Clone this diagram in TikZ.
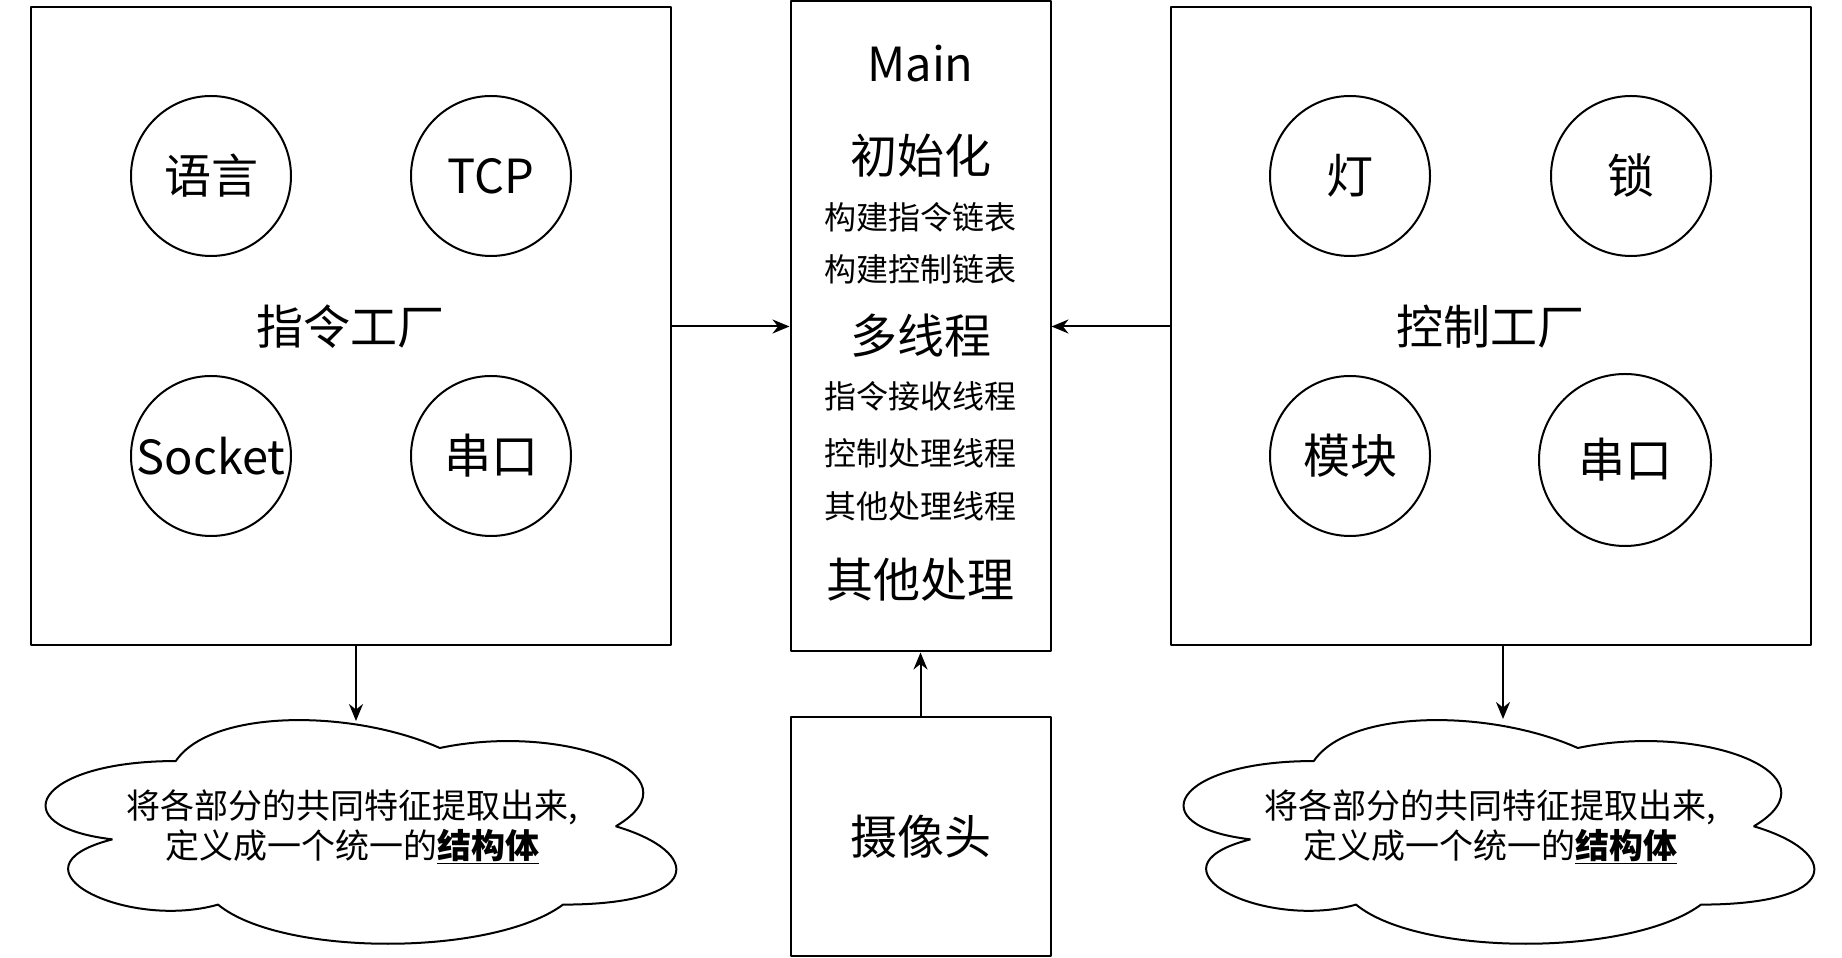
\documentclass[tikz,border=0pt]{standalone}
\usepackage{fontspec}
\setmainfont{Noto Sans CJK SC}
\usetikzlibrary{arrows.meta}
\begin{document}
\begin{tikzpicture}[>={Stealth[length=17bp,width=14bp]},line join=bevel,
  every node/.style={inner sep=0pt},
  box/.style={draw,line width=2bp,rectangle},
  blob/.style={draw,line width=2bp,circle,minimum size=160bp},
  big/.style={font=\fontsize{47bp}{56bp}\selectfont},
  small/.style={font=\fontsize{32bp}{40bp}\selectfont},
  note/.style={font=\fontsize{34bp}{40bp}\selectfont,align=center,minimum width=704bp,minimum height=261bp},
  conn/.style={black,line width=2bp,->}]
\useasboundingbox (0bp,0bp) rectangle (1842bp,958bp);
%%
\node (node_cmd) at (350.7bp,631.5bp) [box,big,minimum width=640bp,minimum height=638bp] {指令工厂};
  \node (node_yuyan) at (211bp,782bp) [blob,big] {语言};
  \node (node_tcp) at (491bp,782bp) [blob,big] {TCP};
  \node (node_socket) at (211bp,502bp) [blob,big] {Socket};
  \node (node_serial1) at (491bp,502bp) [blob,big] {串口};
\node (node_ctrl) at (1490.8bp,631.5bp) [box,big,minimum width=640bp,minimum height=638bp] {控制工厂};
  \node (node_deng) at (1350bp,782bp) [blob,big] {灯};
  \node (node_suo) at (1631bp,782bp) [blob,big] {锁};
  \node (node_mokuai) at (1350bp,502bp) [blob,big] {模块};
  \node (node_serial2) at (1625bp,498bp) [blob,big,minimum size=172bp] {串口};
\node (node_main) at (920.5bp,631.5bp) [box,minimum width=260bp,minimum height=650bp] {};
  \node (node_t0) at (920.5bp,894bp) [big] {Main};
  \node (node_t1) at (920.5bp,802bp) [big] {初始化};
  \node (node_t2) at (920.5bp,741bp) [small] {构建指令链表};
  \node (node_t3) at (920.5bp,689bp) [small] {构建控制链表};
  \node (node_t4) at (920.5bp,622bp) [big] {多线程};
  \node (node_t5) at (920.5bp,562bp) [small] {指令接收线程};
  \node (node_t6) at (920.5bp,505bp) [small] {控制处理线程};
  \node (node_t7) at (920.5bp,452bp) [small] {其他处理线程};
  \node (node_t8) at (920.5bp,378bp) [big] {其他处理};
\node (node_cam) at (920.5bp,121.5bp) [box,big,minimum width=260bp,minimum height=239bp] {摄像头};
\node (node_cloudl) at (352bp,131.5bp) [note] {将各部分的共同特征提取出来,\\定义成一个统一的\textbf{\underline{结构体}}};
\node (node_cloudr) at (1490bp,131.5bp) [note] {将各部分的共同特征提取出来,\\定义成一个统一的\textbf{\underline{结构体}}};
\coordinate (cloudl_top) at (356bp,237bp);
\coordinate (cloudr_top) at (1503bp,239bp);
%
\begin{scope}[shift={(node_cloudl.north west)},x=704bp,y=-261bp]
  \draw [line width=2bp] (0.25,0.25) .. controls (0.05,0.25) and (0,0.5) .. (0.16,0.55)
    .. controls (0,0.66) and (0.18,0.9) .. (0.31,0.8) .. controls (0.4,1) and (0.7,1) .. (0.8,0.8)
    .. controls (1,0.8) and (1,0.6) .. (0.875,0.5) .. controls (1,0.3) and (0.8,0.1) .. (0.625,0.2)
    .. controls (0.5,0.05) and (0.3,0.05) .. cycle;
\end{scope}
\begin{scope}[shift={(node_cloudr.north west)},x=704bp,y=-261bp]
  \draw [line width=2bp] (0.25,0.25) .. controls (0.05,0.25) and (0,0.5) .. (0.16,0.55)
    .. controls (0,0.66) and (0.18,0.9) .. (0.31,0.8) .. controls (0.4,1) and (0.7,1) .. (0.8,0.8)
    .. controls (1,0.8) and (1,0.6) .. (0.875,0.5) .. controls (1,0.3) and (0.8,0.1) .. (0.625,0.2)
    .. controls (0.5,0.05) and (0.3,0.05) .. cycle;
\end{scope}
%
\draw [conn] (node_cmd) -- (node_main);
\draw [conn] (node_ctrl) -- (node_main);
\draw [conn] (node_cam) -- (node_main);
\draw [conn] (node_cmd.south -| cloudl_top) -- (cloudl_top);
\draw [conn] (node_ctrl.south -| cloudr_top) -- (cloudr_top);
%
\end{tikzpicture}
\end{document}
